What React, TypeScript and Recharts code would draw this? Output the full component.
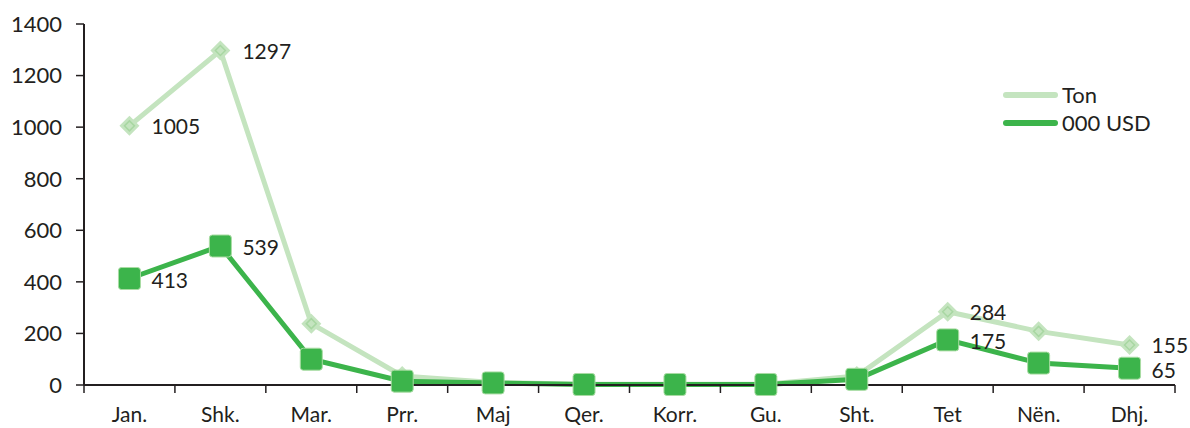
import React from "react";
import { LineChart, Line, XAxis, YAxis } from "recharts";

const months = ["Jan.", "Shk.", "Mar.", "Prr.", "Maj", "Qer.", "Korr.", "Gu.", "Sht.", "Tet", "Nën.", "Dhj."];
const tonValues = [1005, 1297, 238, 35, 10, 3, 3, 3, 35, 284, 208, 155];
const usdValues = [413, 539, 100, 15, 8, 2, 2, 2, 22, 175, 85, 65];
const labelled = [0, 1, 9, 11];
const yTicks = [0, 200, 400, 600, 800, 1000, 1200, 1400];

const data = months.map((m, i) => ({ x: i + 0.5, month: m, ton: tonValues[i], usd: usdValues[i] }));
const boundaryTicks = months.map((_, i) => i).concat([months.length]);
const centerTicks = months.map((_, i) => i + 0.5);

const FONT = "Lato, 'Open Sans', sans-serif";
const TEXT = "#231f20";
const LIGHT = "#c4e4bf";
const GREEN = "#3cb44b";

const Diamond = (props: any) => {
  const { cx, cy } = props;
  if (cx == null || cy == null) return null;
  return (
    <g>
      <path d={`M${cx},${cy - 10} L${cx + 10},${cy} L${cx},${cy + 10} L${cx - 10},${cy} Z`} fill={LIGHT} />
      <path d={`M${cx},${cy - 5} L${cx + 5},${cy} L${cx},${cy + 5} L${cx - 5},${cy} Z`} fill="none" stroke="#a8d7a2" strokeWidth={1.5} />
    </g>
  );
};

const Square = (props: any) => {
  const { cx, cy } = props;
  if (cx == null || cy == null) return null;
  return <rect x={cx - 11} y={cy - 11} width={22} height={22} rx={3} fill={GREEN} stroke="#a9dca3" strokeWidth={1} />;
};

const makeLabel = (values: number[], dy: number) => (props: any) => {
  const { x, y, index } = props;
  if (!labelled.includes(index)) return null;
  return (
    <text x={x + 22} y={y + dy} dominantBaseline="middle" textAnchor="start" fill={TEXT} fontSize={21} fontFamily={FONT}>
      {values[index]}
    </text>
  );
};

export default function App() {
  return (
    <div style={{ position: "absolute", left: 0, top: 0, width: 1190, height: 428 }}>
      <LineChart width={1190} height={428} data={data} margin={{ top: 24, right: 15, left: 0, bottom: 0 }}>
        <XAxis
          xAxisId="a"
          dataKey="x"
          type="number"
          domain={[0, 12]}
          ticks={boundaryTicks}
          tickFormatter={() => ""}
          height={10}
          tickSize={8}
          axisLine={{ stroke: TEXT, strokeWidth: 2 }}
          tickLine={{ stroke: TEXT, strokeWidth: 1.5 }}
        />
        <XAxis
          xAxisId="b"
          dataKey="x"
          type="number"
          domain={[0, 12]}
          ticks={centerTicks}
          tickFormatter={(v: number) => months[Math.floor(v)]}
          height={33}
          tickSize={0}
          tickMargin={12}
          axisLine={false}
          tickLine={false}
          tick={{ fill: TEXT, fontSize: 21, fontFamily: FONT }}
        />
        <YAxis
          domain={[0, 1400]}
          ticks={yTicks}
          width={84}
          tickSize={8}
          tickMargin={14}
          axisLine={{ stroke: TEXT, strokeWidth: 2 }}
          tickLine={{ stroke: TEXT, strokeWidth: 1.5 }}
          tick={{ fill: TEXT, fontSize: 22, fontFamily: FONT }}
        />
        <Line
          xAxisId="a"
          dataKey="ton"
          stroke={LIGHT}
          strokeWidth={5}
          dot={<Diamond />}
          activeDot={false}
          label={makeLabel(tonValues, 3)}
          isAnimationActive={false}
        />
        <Line
          xAxisId="a"
          dataKey="usd"
          stroke={GREEN}
          strokeWidth={5}
          dot={<Square />}
          activeDot={false}
          label={makeLabel(usdValues, 4)}
          isAnimationActive={false}
        />
      </LineChart>
      <div style={{ position: "absolute", left: 1003, top: 81, fontFamily: FONT, fontSize: 22, color: TEXT, lineHeight: "28px" }}>
        {[
          { name: "Ton", color: LIGHT },
          { name: "000 USD", color: GREEN },
        ].map((item) => (
          <div key={item.name} style={{ display: "flex", alignItems: "center" }}>
            <div style={{ width: 55, height: 6, borderRadius: 3, background: item.color, marginRight: 4 }} />
            <span>{item.name}</span>
          </div>
        ))}
      </div>
    </div>
  );
}
